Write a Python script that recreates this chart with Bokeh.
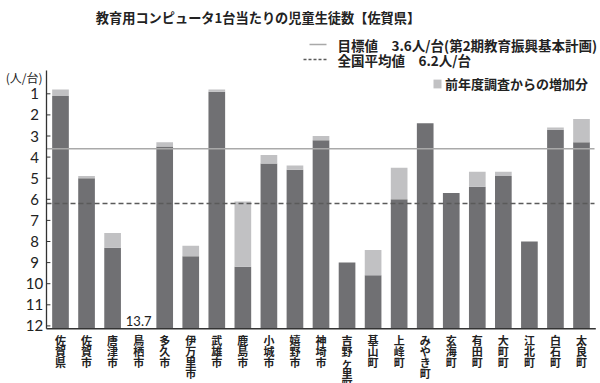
from bokeh.plotting import figure
from bokeh.models import Range1d, Legend, LegendItem, ColumnDataSource
from bokeh.core.properties import value
from bokeh.embed import file_html
from bokeh.resources import INLINE

# ---- data -------------------------------------------------------------
categories = ["佐賀県", "佐賀市", "唐津市", "鳥栖市", "多久市", "伊万里市", "武雄市",
              "鹿島市", "小城市", "嬉野市", "神埼市", "吉野ヶ里町", "基山町", "上峰町",
              "みやき町", "玄海町", "有田町", "大町町", "江北町", "白石町", "太良町"]
current = [1.1, 5.0, 8.3, 13.7, 3.5, 8.7, 0.9, 9.2, 4.3, 4.6, 3.2, 9.0, 9.6, 6.0,
           2.4, 5.7, 5.4, 4.9, 8.0, 2.7, 3.3]
increase = [0.3, 0.1, 0.7, 0.0, 0.2, 0.5, 0.1, 3.1, 0.4, 0.2, 0.2, 0.0, 1.2, 1.5,
            0.0, 0.0, 0.7, 0.2, 0.0, 0.1, 1.1]
target_value = 3.6
national_value = 6.2
y_ticks = list(range(1, 13))

title_text = "教育用コンピュータ1台当たりの児童生徒数【佐賀県】"
target_label = "目標値　3.6人/台(第2期教育振興基本計画)"
national_label = "全国平均値　6.2人/台"
increase_label = "前年度調査からの増加分"
unit_label = "(人/台)"

# ---- layout / style ---------------------------------------------------
W, H = 600, 383
X0_PX, X_STEP = 60.0, 26.05      # pixel centre of first category, px per category
Y1_PX, Y_STEP = 93.3, 21.1       # pixel of value 1, px per unit


def xd(px):
    return (px - X0_PX) / X_STEP


def yd(py):
    return 1 + (py - Y1_PX) / Y_STEP


DARK = "#707073"
LIGHT = "#c1c1c3"
TXT = "#222222"
AXIS = "#333333"
TARGET_C = "#a9a9a9"
NATIONAL_C = "#5a5a5a"
JP = "Noto Sans CJK JP"

AXIS_X = xd(46)
RIGHT_X = xd(594)
Y_BOTTOM = yd(328.3)
Y_TOP = yd(70)

n = len(categories)
idx = list(range(n))
shown = [min(v, Y_BOTTOM) for v in current]
previous = [min(c - i, Y_BOTTOM) for c, i in zip(shown, increase)]

src = ColumnDataSource(dict(x=idx, cur=shown, prev=previous, base=[Y_BOTTOM] * n))

p = figure(width=W, height=H,
           x_range=Range1d(xd(0), xd(W)), y_range=Range1d(yd(H), yd(0)),
           x_axis_location=None, y_axis_location=None,
           output_backend="svg", toolbar_location=None, min_border=0)
p.outline_line_color = None
p.grid.visible = False
p.background_fill_color = "white"
p.border_fill_color = "white"

# bars
p.vbar(x="x", top="cur", bottom="base", width=0.64, fill_color=DARK,
       line_color=None, source=src)
inc_r = p.vbar(x="x", top="prev", bottom="cur", width=0.64, fill_color=LIGHT,
               line_color=None, source=src)

# reference lines
p.segment(x0=[AXIS_X], x1=[RIGHT_X], y0=[target_value], y1=[target_value],
          line_color=TARGET_C, line_width=1.5)
p.segment(x0=[AXIS_X], x1=[RIGHT_X], y0=[national_value], y1=[national_value],
          line_color=NATIONAL_C, line_width=1.5, line_dash="5 3")

# axes
p.segment(x0=[AXIS_X], x1=[AXIS_X], y0=[Y_TOP], y1=[Y_BOTTOM],
          line_color=AXIS, line_width=1.3)
p.segment(x0=[AXIS_X], x1=[RIGHT_X + 0.05], y0=[Y_BOTTOM], y1=[Y_BOTTOM],
          line_color=AXIS, line_width=1.5)
p.segment(x0=[AXIS_X] * len(y_ticks), x1=[AXIS_X + 0.15] * len(y_ticks),
          y0=y_ticks, y1=y_ticks, line_color=AXIS, line_width=1)
p.text(x=[AXIS_X] * len(y_ticks), y=y_ticks, text=[str(t) for t in y_ticks],
       x_offset=-12, text_align="center", text_baseline="middle",
       text_font=value("Lato"), text_font_size="15px", text_color=TXT)

# category labels, one character per line
cx, cy, ct, co = [], [], [], []
for i, name in enumerate(categories):
    for k, ch in enumerate(name):
        cx.append(i)
        cy.append(Y_BOTTOM)
        ct.append(ch)
        co.append(3 + 11 * k)
p.text(x=cx, y=cy, text=ct, y_offset=co, text_align="center",
       text_baseline="top", text_font=value(JP), text_font_style="bold",
       text_font_size="11px", text_color=TXT)

# off-scale value
off_i = [i for i, v in enumerate(current) if v > Y_BOTTOM]
p.text(x=off_i, y=[Y_BOTTOM] * len(off_i),
       text=[str(current[i]) for i in off_i], y_offset=-3,
       text_align="center", text_baseline="bottom",
       text_font=value("Lato"), text_font_size="13px", text_color=TXT)

# title and unit
p.text(x=[xd(257.5)], y=[yd(17)], text=[title_text], text_align="center",
       text_baseline="middle", text_font=value(JP), text_font_style="bold",
       text_font_size="13.2px", text_color=TXT)
p.text(x=[xd(42)], y=[yd(77)], text=[unit_label], text_align="right",
       text_baseline="middle", text_font=value(JP), text_font_size="12px",
       text_color=TXT)

# legend for the two reference lines (drawn by hand)
p.segment(x0=[xd(309)], x1=[xd(326)], y0=[yd(44)], y1=[yd(44)],
          line_color=TARGET_C, line_width=1.5)
p.segment(x0=[xd(303)], x1=[xd(326)], y0=[yd(59)], y1=[yd(59)],
          line_color=NATIONAL_C, line_width=1.5, line_dash="3 2")
p.text(x=[xd(337), xd(337)], y=[yd(44), yd(59)],
       text=[target_label, national_label], text_align="left",
       text_baseline="middle", text_font=value(JP), text_font_style="bold",
       text_font_size="13.5px", text_color=TXT)

# legend for the increase
leg2 = Legend(items=[LegendItem(label=increase_label, renderers=[inc_r])],
              location=(432, H - 93), orientation="vertical",
              background_fill_alpha=0, border_line_color=None,
              padding=0, margin=0, spacing=0,
              glyph_width=10, glyph_height=11, label_height=14,
              label_standoff=3, label_text_font=JP,
              label_text_font_style="bold",
              label_text_font_size="13px", label_text_color=TXT)
p.add_layout(leg2)

open("out.html", "w").write(file_html(p, INLINE))
